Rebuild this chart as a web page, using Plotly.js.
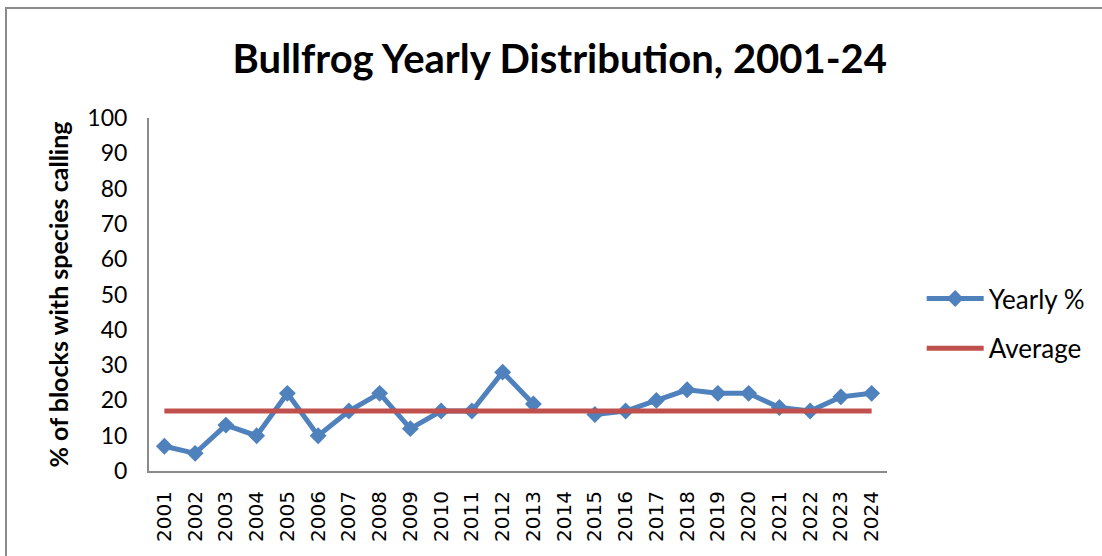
<!DOCTYPE html>
<html>
<head>
<meta charset="utf-8">
<script src="https://cdn.plot.ly/plotly-3.0.1.min.js"></script>
<style>
  html, body { margin: 0; padding: 0; background: #fff; }
  #wrap { position: relative; width: 1102px; height: 556px; overflow: hidden; }
  #chart { position: absolute; left: 0; top: 0; width: 1102px; height: 556px; }
  #frame { position: absolute; left: 5px; top: 7px; width: 1200px; height: 700px;
           border-left: 2px solid #8a8a8a; border-top: 2px solid #8a8a8a; pointer-events: none; }
</style>
</head>
<body>
<div id="wrap">
  <div id="chart"></div>
  <div id="frame"></div>
</div>
<script>
const years = ["2001","2002","2003","2004","2005","2006","2007","2008","2009","2010","2011","2012",
               "2013","2014","2015","2016","2017","2018","2019","2020","2021","2022","2023","2024"];
const yearlyPct = [7, 5, 13, 10, 22, 10, 17, 22, 12, 17, 17, 28,
                   19, null, 16, 17, 20, 23, 22, 22, 18, 17, 21, 22];
const average = [17, 17, 17, 17, 17, 17, 17, 17, 17, 17, 17, 17,
                 17, 17, 17, 17, 17, 17, 17, 17, 17, 17, 17, 17];
const yTicks = [0, 10, 20, 30, 40, 50, 60, 70, 80, 90, 100];

const traces = [
  {
    x: years, y: yearlyPct, name: "Yearly %", type: "scatter", mode: "lines+markers",
    connectgaps: false, legendgroup: "a",
    line: { color: "#4F81BD", width: 5 },
    marker: { symbol: "diamond", size: 13, color: "#4F81BD" }
  },
  {
    x: years, y: average, name: "Average", type: "scatter", mode: "lines",
    legendgroup: "b",
    line: { color: "#C0504D", width: 5 }
  }
];

const layout = {
  width: 1102, height: 556,
  margin: { l: 149, r: 213, t: 118, b: 85 },
  paper_bgcolor: "rgba(0,0,0,0)", plot_bgcolor: "#fff",
  showlegend: true,
  title: {
    text: "<b>Bullfrog Yearly Distribution, 2001-24</b>",
    font: { family: "Lato, 'Open Sans', sans-serif", size: 40, color: "#000" },
    x: 0.508, xanchor: "center", y: 0.893, yanchor: "middle", yref: "container"
  },
  xaxis: {
    type: "category", categoryorder: "array", categoryarray: years,
    range: [-0.5, 23.5],
    tickangle: -90, tickmode: "array", tickvals: years, ticktext: years,
    tickfont: { family: "DejaVu Sans, sans-serif", size: 20, color: "#000" },
    ticklabelstandoff: 10,
    showline: true, linecolor: "#8a8a8a", linewidth: 2,
    showgrid: false, zeroline: false, ticks: "", ticklen: 0
  },
  yaxis: {
    range: [0, 100], tickmode: "array", tickvals: yTicks,
    tickfont: { family: "Lato, sans-serif", size: 23, color: "#000" },
    ticklabelstandoff: 15,
    showline: true, linecolor: "#8a8a8a", linewidth: 2,
    showgrid: false, zeroline: false, ticks: "", ticklen: 0,
    title: { text: "<b>% of blocks with species calling</b>",
             font: { family: "Lato, sans-serif", size: 25, color: "#000" }, standoff: 12 }
  },
  legend: {
    x: 1.047, xanchor: "left", y: 0.555, yanchor: "top",
    font: { family: "Lato, sans-serif", size: 26, color: "#000" },
    traceorder: "grouped", tracegroupgap: 13, itemwidth: 57,
    bgcolor: "rgba(0,0,0,0)"
  }
};

Plotly.newPlot("chart", traces, layout, { displayModeBar: false, staticPlot: true });
</script>
</body>
</html>
